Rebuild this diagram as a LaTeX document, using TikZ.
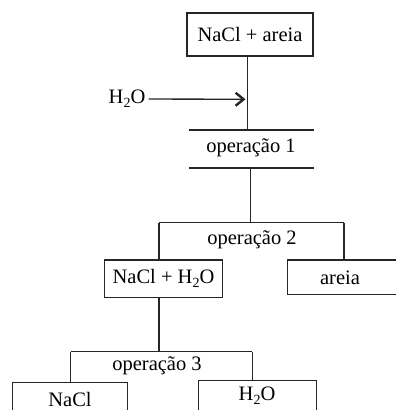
\documentclass[tikz,border=0pt]{standalone}
\usepackage{fontspec}
\setmainfont{Liberation Serif}
\usetikzlibrary{arrows.meta}
\newcommand{\subtwo}{\raisebox{-0.45ex}{\fontsize{14}{14}\selectfont 2}}
\begin{document}
\begin{tikzpicture}[x=1pt,y=-1pt,
  ln/.style={line width=1.35pt, draw=black!85},
  boxn/.style={ln, draw, rectangle, inner sep=0pt, font=\fontsize{20.5}{24}\selectfont},
  lbl/.style={inner sep=0pt, font=\fontsize{20.5}{24}\selectfont}]
\useasboundingbox (0,0) rectangle (396,410);
% top box
\node[boxn, minimum width=126pt, minimum height=43pt] (top) at (250,34.5) {NaCl + areia};
\node[lbl] (water) at (127,99) {H\subtwo O};
\coordinate (j1) at (247.5,130);
\coordinate (arrowend) at (245.5,99.3);
\draw[ln] (top.south -| j1) -- (j1);
\draw[ln, -{Straight Barb[length=8pt,width=13pt,line width=2.4pt]}] (water.east) ++(3,0) coordinate (ws) -- (arrowend);
% operacao 1
\coordinate (o1a) at (189,130); \coordinate (o1b) at (314,130);
\coordinate (o1c) at (189,168); \coordinate (o1d) at (314,168);
\draw[ln] (o1a) -- (o1b);
\draw[ln] (o1c) -- (o1d);
\node[lbl] (op1) at (251,148) {operação 1};
% operacao 2
\coordinate (v2a) at (250.7,168); \coordinate (v2b) at (250.7,222.7);
\draw[ln] (v2a) -- (v2b);
\coordinate (h2l) at (159,222.7); \coordinate (h2r) at (344,222.7);
\draw[ln] (h2l) -- (h2r);
\node[lbl] (op2) at (252,240) {operação 2};
\node[boxn, minimum width=118.4pt, minimum height=37.3pt] (mix) at (163.5,278.6) {NaCl + H\subtwo O};
\draw[ln] (h2l) -- (h2l |- mix.north);
\coordinate (sandtl) at (287.7,260);
\coordinate (sandbl) at (287.7,294.5);
\draw[ln] (h2r) -- (344,260);
\draw[ln] (396.5,260) -- (sandtl) -- (sandbl) -- (396.5,294.5);
\node[lbl] (sand) at (340,277.5) {areia};
% operacao 3
\coordinate (h3c) at (159,351.7);
\draw[ln] (mix.south -| h3c) -- (h3c);
\coordinate (h3l) at (70.7,351.7); \coordinate (h3r) at (252.3,351.7);
\draw[ln] (h3l) -- (h3r);
\node[lbl] (op3) at (157,366) {operação 3};
\draw[ln] (h3l) -- (70.7,382.7);
\draw[ln] (h3r) -- (252.3,380.7);
\draw[ln] (12.7,411) -- (12.7,382.7) -- (127.7,382.7) -- (127.7,411);
\draw[ln] (198.3,411) -- (198.3,380.7) -- (316.7,380.7) -- (316.7,411);
\node[lbl] (nacl) at (70,399) {NaCl};
\node[lbl] (h2o) at (257,396) {H\subtwo O};
\end{tikzpicture}
\end{document}
